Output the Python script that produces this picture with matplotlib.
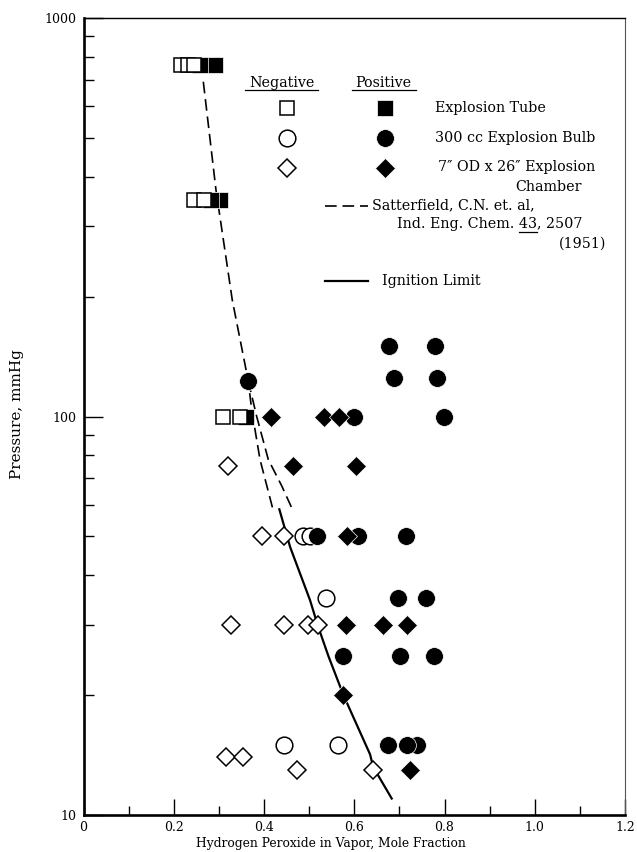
import numpy as np
import matplotlib
matplotlib.use('Agg')
from matplotlib import pyplot as plt
from matplotlib.ticker import FixedLocator, FixedFormatter, NullFormatter

# ---- data (x = mole fraction H2O2 in vapor, p = mmHg) ----
# explosion tube (squares)
neg_tube_x = [0.216, 0.232, 0.244, 0.244, 0.267, 0.310, 0.347]
neg_tube_p = [760, 760, 760, 350, 350, 100, 100]
pos_tube_x = [0.291, 0.258, 0.302, 0.283, 0.360]
pos_tube_p = [760, 760, 350, 350, 100]

# 300 cc explosion bulb (circles)
neg_bulb_x = [0.486, 0.502, 0.537, 0.445, 0.565]
neg_bulb_p = [50, 50, 35, 15, 15]
pos_bulb_x = [0.678, 0.780, 0.365, 0.689, 0.784, 0.600, 0.799, 0.518, 0.609,
              0.715, 0.698, 0.758, 0.574, 0.701, 0.777, 0.674, 0.738, 0.716]
pos_bulb_p = [150, 150, 123, 125, 125, 100, 100, 50, 50,
              50, 35, 35, 25, 25, 25, 15, 15, 15]

# 7" OD x 26" explosion chamber (diamonds)
neg_chamber_x = [0.320, 0.395, 0.444, 0.327, 0.444, 0.497, 0.519, 0.315, 0.354, 0.474, 0.642]
neg_chamber_p = [75, 50, 50, 30, 30, 30, 30, 14, 14, 13, 13]
pos_chamber_x = [0.416, 0.534, 0.567, 0.465, 0.604, 0.583, 0.581, 0.663, 0.716, 0.576, 0.724]
pos_chamber_p = [100, 100, 100, 75, 75, 50, 30, 30, 30, 20, 13]

# Satterfield et al. (two dashed branches)
sat_a_x = [0.2655, 0.2936, 0.3297, 0.365, 0.3727, 0.3911, 0.4206]
sat_a_p = [692, 370, 196, 123, 104, 78, 58]
sat_b_x = [0.365, 0.3838, 0.4095, 0.4392, 0.4614]
sat_b_p = [123, 100, 78, 67, 59]

# ignition limit (solid)
ign_x = [0.434, 0.458, 0.502, 0.520, 0.543, 0.576, 0.635, 0.642, 0.683]
ign_p = [58.5, 47, 34.6, 29.7, 25, 20, 14.2, 13.2, 11]

xticks = [0, 0.2, 0.4, 0.6, 0.8, 1.0, 1.2]
xticklabels = ['0', '0.2', '0.4', '0.6', '0.8', '1.0', '1.2']
yticklabels = ['10', '100', '1000']

FONT = 'DejaVu Serif'
plt.rcParams['font.family'] = FONT

W, H = 637, 852
L, R, T, B = 83.5, 625, 18, 815
fig = plt.figure(figsize=(W / 100, H / 100), dpi=100)
ax = fig.add_axes([L / W, 1 - B / H, (R - L) / W, (B - T) / H])


def axpt(px, py):
    # pixel in the figure -> axes fraction (for the hand-made legend)
    return (px - L) / (R - L), (B - py) / (B - T)


open_kw = dict(ls='none', mfc='white', mec='black', mew=1.1)
fill_kw = dict(ls='none', mfc='black', mec='white', mew=0.5)

SQ_O, SQ_F = 10, 11.2
CI_O, CI_F = 12, 12.8
DI_O, DI_F = 9, 10.3

ax.plot(sat_a_x, sat_a_p, color='black', lw=1.2, dashes=(7, 3.5), zorder=2)
ax.plot(sat_b_x, sat_b_p, color='black', lw=1.2, dashes=(7, 3.5), zorder=2)
ax.plot(ign_x, ign_p, color='black', lw=1.6, zorder=2)

ax.plot(pos_tube_x, pos_tube_p, marker='s', ms=SQ_F, zorder=3, **fill_kw)
ax.plot(neg_bulb_x, neg_bulb_p, marker='o', ms=CI_O, zorder=3, **open_kw)
ax.plot(pos_bulb_x, pos_bulb_p, marker='o', ms=CI_F, zorder=3, **fill_kw)
ax.plot(pos_chamber_x, pos_chamber_p, marker='D', ms=DI_F, zorder=3, **fill_kw)
ax.plot(neg_chamber_x, neg_chamber_p, marker='D', ms=DI_O, zorder=3, **open_kw)
ax.plot(neg_tube_x, neg_tube_p, marker='s', ms=SQ_O, zorder=3, **open_kw)

ax.set_yscale('log')
ax.set_xlim(0, 1.2)
ax.set_ylim(10, 1000)

ax.xaxis.set_major_locator(FixedLocator(xticks))
ax.xaxis.set_major_formatter(FixedFormatter(xticklabels))
ax.xaxis.set_minor_locator(FixedLocator(np.arange(0.1, 1.2, 0.2)))
ax.yaxis.set_major_locator(FixedLocator([10, 100, 1000]))
ax.yaxis.set_major_formatter(FixedFormatter(yticklabels))
ax.yaxis.set_minor_locator(FixedLocator([m * d for d in (10, 100) for m in range(2, 10)]))
ax.yaxis.set_minor_formatter(NullFormatter())

ax.tick_params(which='both', direction='in', top=False, right=False, width=1.0,
               labelsize=9, colors='black')
ax.tick_params(axis='x', which='major', length=11.5, pad=4)
ax.tick_params(axis='x', which='minor', length=6.5)
ax.tick_params(axis='y', which='major', length=14, pad=5)
ax.tick_params(axis='y', which='minor', length=7)

for side, lw in (('left', 1.9), ('bottom', 1.9), ('top', 1.0), ('right', 0.8)):
    ax.spines[side].set_linewidth(lw)
ax.spines['right'].set_color('#555555')

fig.text(331 / W, 1 - 843 / H, 'Hydrogen Peroxide in Vapor, Mole Fraction',
         ha='center', va='center', fontsize=8.8)
fig.text(17 / W, 1 - 414 / H, 'Pressure, mmHg', rotation=90,
         ha='center', va='center', fontsize=11)

# ---- hand-made legend ----
LFS = 10.3


def ltext(px, py, s, ha='left'):
    return ax.text(*axpt(px, py), s, transform=ax.transAxes, ha=ha, va='center',
                   fontsize=LFS)


def lmark(px, py, **kw):
    ax.plot(*axpt(px, py), transform=ax.transAxes, clip_on=False, zorder=4, **kw)


def lline(x0, x1, py, **kw):
    a0 = axpt(x0, py)
    a1 = axpt(x1, py)
    ax.plot([a0[0], a1[0]], [a0[1], a1[1]], transform=ax.transAxes, color='black',
            clip_on=False, **kw)


ltext(281.5, 82.7, 'Negative', ha='center')
ltext(383.7, 82.7, 'Positive', ha='center')
lline(245, 318, 89.5, lw=0.9)
lline(351.7, 415.7, 89.5, lw=0.9)

lmark(286.7, 108.3, marker='s', ms=SQ_O, **open_kw)
lmark(385, 108.3, marker='s', ms=SQ_F, **fill_kw)
lmark(286.7, 138.3, marker='o', ms=CI_O, **open_kw)
lmark(385, 138.3, marker='o', ms=CI_F, **fill_kw)
lmark(286.7, 168.3, marker='D', ms=DI_O, **open_kw)
lmark(385, 168.3, marker='D', ms=DI_F, **fill_kw)

ltext(435, 108, 'Explosion Tube')
ltext(435, 138, '300 cc Explosion Bulb')
ltext(438, 167, '7\u2033 OD x 26\u2033 Explosion')
ltext(548, 187, 'Chamber', ha='center')

lline(325, 368.3, 205.7, lw=1.2, dashes=(7, 3.5))
ltext(371.7, 205, 'Satterfield, C.N. et. al,')
ltext(396.7, 224, 'Ind. Eng. Chem. 43, 2507')
ltext(606.7, 243.3, '(1951)', ha='right')

lline(325, 368.3, 280.7, lw=1.6)
ltext(381.7, 280.7, 'Ignition Limit')

# underline the volume number "43"
fig.canvas.draw()
rend = fig.canvas.get_renderer()
probe = ax.text(*axpt(396.7, 224), 'Ind. Eng. Chem. 43', transform=ax.transAxes,
                ha='left', va='center', fontsize=LFS)
probe2 = ax.text(*axpt(396.7, 224), '43', transform=ax.transAxes,
                 ha='left', va='center', fontsize=LFS)
x_end = probe.get_window_extent(rend).x1
w43 = probe2.get_window_extent(rend).width
probe.remove()
probe2.remove()
lline(x_end - w43, x_end, 231.5, lw=0.9)

fig.savefig('out.png', dpi=100, facecolor='white')
